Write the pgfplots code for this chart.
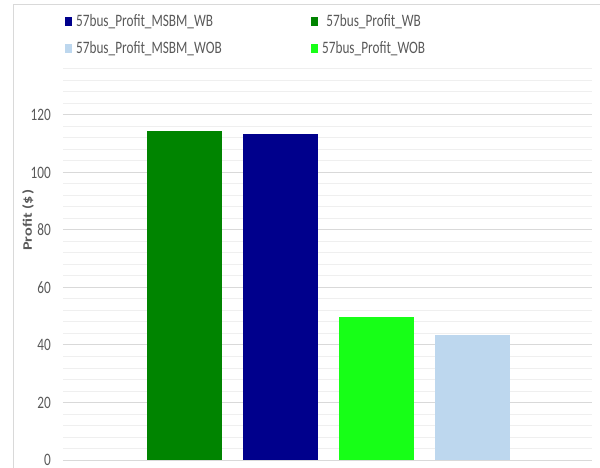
\documentclass[border=0pt]{standalone}
\usepackage{fontspec}
\usepackage{pgfplots}
\pgfplotsset{compat=1.18}
\setmainfont{Carlito}
\newfontfamily\chartfont{Carlito}[FakeStretch=0.76]
\newfontfamily\labelfont{Carlito}[FakeStretch=1.25]
\definecolor{txtgray}{HTML}{595959}
\definecolor{majgrid}{HTML}{D9D9D9}
\definecolor{mingrid}{HTML}{EFEFEF}
\definecolor{cWB}{HTML}{008400}
\definecolor{cMSBMWB}{HTML}{00008C}
\definecolor{cWOB}{HTML}{17FF17}
\definecolor{cMSBMWOB}{HTML}{BDD7EE}
\begin{document}
\begin{tikzpicture}
\path[use as bounding box] (-63bp,-8bp) rectangle (537bp,460bp);
% outer chart frame
\draw[majgrid, line width=1bp] (-49bp,-30bp) -- (-49bp,455bp) -- (560bp,455bp);
\begin{axis}[
  at={(0,0)}, anchor=south west,
  scale only axis, width=529bp, height=391bp,
  xmin=-1.266, xmax=4.245,
  ymin=0, ymax=136,
  xtick=\empty,
  ytick={0,20,...,120},
  minor ytick={4,8,12,16,24,28,32,36,44,48,52,56,64,68,72,76,84,88,92,96,104,108,112,116,124,128,132,136},
  ymajorgrids, yminorgrids,
  major grid style={majgrid, line width=1bp},
  minor grid style={mingrid, line width=1bp},
  axis line style={draw=none},
  major tick length=0pt, minor tick length=0pt,
  /pgf/number format/assume math mode=true,
  yticklabel style={font=\fontsize{17.5}{17.5}\chartfont, text=txtgray, anchor=east, inner sep=0pt, xshift=-12bp},
  ylabel={\textbf{Profit (\$\,)}},
  ylabel style={font=\fontsize{13}{13}\labelfont, text=txtgray, at={(axis description cs:-0.066,0.614)}, anchor=center},
  ybar, bar width=75bp, bar shift=0pt,
  legend columns=2,
  legend style={draw=none, fill=none, at={(axis description cs:-0.002,1.1445)}, anchor=north west,
    font=\fontsize{17.5}{17.5}\chartfont, text=txtgray,
    nodes={inner sep=0pt, text height=12bp, text depth=3bp},
    row sep=12bp,
    /tikz/every odd column/.append style={column sep=4bp}},
  legend image code/.code={\fill[#1] (0bp,-4bp) rectangle (7bp,5bp);},
]
\addplot[fill=cMSBMWB, draw=none] coordinates {(1,113.3)};
\addlegendentry{\makebox[235bp][l]{57bus\_Profit\_MSBM\_WB}}
\addplot[fill=cWB, draw=none] coordinates {(0,114.5)};
\addlegendentry{57bus\_Profit\_WB}
\addplot[fill=cMSBMWOB, draw=none] coordinates {(3,43.4)};
\addlegendentry{\makebox[235bp][l]{57bus\_Profit\_MSBM\_WOB}}
\addplot[fill=cWOB, draw=none] coordinates {(2,49.6)};
\addlegendentry{57bus\_Profit\_WOB}
\end{axis}
\end{tikzpicture}
\end{document}
